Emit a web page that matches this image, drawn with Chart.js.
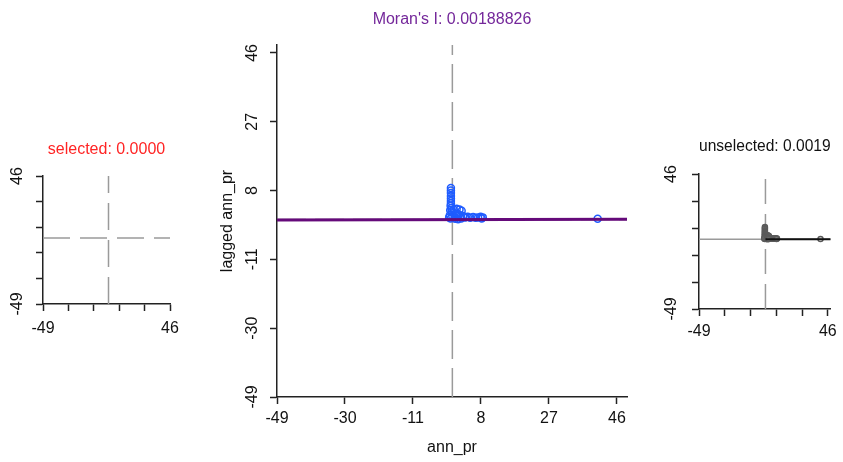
<!DOCTYPE html>
<html><head><meta charset="utf-8">
<script src="https://cdn.jsdelivr.net/npm/chart.js@4.4.0/dist/chart.umd.min.js"></script>
<style>
html,body{margin:0;padding:0;background:#fff;width:843px;height:462px;overflow:hidden}
canvas{position:absolute;top:0}
</style></head><body>
<canvas id="cl" width="200" height="462" style="left:0;width:200px;height:462px"></canvas>
<canvas id="cm" width="460" height="462" style="left:200px;width:460px;height:462px"></canvas>
<canvas id="cr" width="183" height="462" style="left:660px;width:183px;height:462px"></canvas>
<script>
// ---- data ----
const tickValues = [-49, -30, -11, 8, 27, 46];
const sideLabelValues = [-49, 46];
const xTitle = 'ann_pr';
const yTitle = 'lagged ann_pr';
const moransI = 0.00188826;
const mainTitle = "Moran's I: 0.00188826";
const selectedTitle = 'selected: 0.0000';
const unselectedTitle = 'unselected: 0.0019';
const annPr = [-0.4,-0.4,-0.4,-0.4,-0.4,-0.4,-0.4,-0.5,-0.3,-0.6,-0.2,0.4,1.2,2.0,2.6,0.3,1.0,1.8,-0.7,0.0,0.6,1.4,2.2,3.0,3.6,4.3,5.0,5.8,6.5,7.2,7.9,8.5,8.2,-0.5,-0.9,0.8,1.6,2.5,40.6];
const laggedAnnPr = [8.7,8.0,7.3,6.5,5.8,5.1,4.5,3.8,3.2,2.6,2.2,2.8,3.0,2.8,2.4,1.8,1.5,1.4,1.2,0.9,0.6,0.9,0.7,1.0,0.6,0.8,0.5,0.7,0.5,0.6,0.8,0.6,0.3,0.3,0.6,0.2,0.1,0.3,0.2];

// ---- build ----
const FONT_FAMILY = "'Liberation Sans', Arial, sans-serif";
const FS = 16;
Chart.defaults.font.family = FONT_FAMILY;
Chart.defaults.font.size = FS;
Chart.defaults.color = '#111';
const GREY = '#9a9a9a';
const AX = '#222';
const points = annPr.map((x, i) => ({x: x, y: laggedAnnPr[i]}));

const rotY = {
  id: 'rotY',
  afterDraw(chart, args, opts) {
    const s = chart.scales.y, ctx = chart.ctx;
    ctx.save();
    ctx.font = FS + 'px ' + FONT_FAMILY;
    ctx.fillStyle = '#111';
    ctx.textAlign = 'center';
    ctx.textBaseline = 'middle';
    opts.labels.forEach(v => {
      const py = s.getPixelForValue(v);
      ctx.save();
      ctx.translate(s.right - opts.offset, py);
      ctx.rotate(-Math.PI / 2);
      ctx.fillText(String(v), 0, 0);
      ctx.restore();
    });
    ctx.restore();
  }
};

function scales(o) {
  return {
    x: {
      type: 'linear', min: -49, max: o.xmax,
      afterBuildTicks: s => { s.ticks = tickValues.map(v => ({value: v})); },
      afterFit: s => { s.height = o.xh; },
      border: {color: AX, width: 1.5},
      grid: {drawOnChartArea: false, tickLength: 7, tickColor: AX, tickWidth: 1.5},
      ticks: {padding: o.xpad, maxRotation: 0, autoSkip: false,
        callback: v => (o.labelsX.includes(v) ? String(v) : '')},
      title: o.xtitle ? {display: true, text: o.xtitle, padding: {top: 0, bottom: 4.4}} : {display: false}
    },
    y: {
      type: 'linear', min: -49, max: o.ymax,
      afterBuildTicks: s => { s.ticks = tickValues.map(v => ({value: v})); },
      afterFit: s => { s.width = o.yw; },
      border: {color: AX, width: 1.5},
      grid: {drawOnChartArea: false, tickLength: 7, tickColor: AX, tickWidth: 1.5},
      ticks: {display: false},
      title: o.ytitle ? {display: true, text: o.ytitle, padding: {top: 18.4, bottom: 0}} : {display: false}
    }
  };
}

function lineDs(data, color, width, dash) {
  return {type: 'scatter', data: data, showLine: true, borderColor: color, borderWidth: width,
    borderDash: dash || [], pointRadius: 0, fill: false};
}

// main chart
const xMaxMain = 48.8, yMaxMain = 48.2;
new Chart(document.getElementById('cm'), {
  type: 'scatter',
  data: {datasets: [
    lineDs([{x: -49, y: -49 * moransI}, {x: xMaxMain, y: xMaxMain * moransI}], '#650a7a', 3),
    {data: points, pointRadius: 3.5, pointBorderWidth: 1.5, pointBorderColor: '#1f5cff',
     pointBackgroundColor: 'rgba(255,255,255,0)', showLine: false},
    lineDs([{x: 0, y: -49}, {x: 0, y: yMaxMain}], GREY, 1.5, [29, 9]),
    lineDs([{x: -49, y: 0}, {x: xMaxMain, y: 0}], GREY, 1.5, [29, 9])
  ]},
  options: {
    responsive: false, animation: false,
    layout: {padding: {left: 0, right: 33, top: 0, bottom: 0}},
    plugins: {
      legend: {display: false}, tooltip: {enabled: false},
      title: {display: true, text: mainTitle, color: '#74279a', fullSize: false,
        font: {size: FS, weight: 'normal'}, padding: {top: 10, bottom: 15.8}},
      rotY: {labels: tickValues, offset: 24}
    },
    scales: scales({xmax: xMaxMain, ymax: yMaxMain, xh: 65, yw: 77, xpad: 5.4,
      labelsX: tickValues, xtitle: xTitle, ytitle: yTitle})
  },
  plugins: [rotY]
});

// left (selected) chart
new Chart(document.getElementById('cl'), {
  type: 'scatter',
  data: {datasets: [
    lineDs([{x: 0, y: -49}, {x: 0, y: 46}], GREY, 1.5, [27, 10]),
    lineDs([{x: -49, y: 0}, {x: 46, y: 0}], GREY, 1.5, [27, 10])
  ]},
  options: {
    responsive: false, animation: false,
    layout: {padding: {left: 0, right: 30, top: 0, bottom: 118}},
    plugins: {
      legend: {display: false}, tooltip: {enabled: false},
      title: {display: true, text: selectedTitle, color: '#ff2424', fullSize: false,
        font: {size: FS, weight: 'normal'}, padding: {top: 140.4, bottom: 16.4}},
      rotY: {labels: sideLabelValues, offset: 25}
    },
    scales: scales({xmax: 46, ymax: 46, xh: 40, yw: 43, xpad: 8, labelsX: sideLabelValues})
  },
  plugins: [rotY]
});

// right (unselected) chart
const xMaxR = 48.1;
new Chart(document.getElementById('cr'), {
  type: 'scatter',
  data: {datasets: [
    lineDs([{x: 0, y: 0}, {x: xMaxR, y: xMaxR * moransI}], '#111', 2),
    {data: points, pointRadius: 2.6, pointBorderWidth: 1.3, pointBorderColor: '#5a5a5a',
     pointBackgroundColor: 'rgba(140,140,140,0.25)', showLine: false},
    lineDs([{x: 0, y: -49}, {x: 0, y: 46}], GREY, 1.5, [25, 10]),
    lineDs([{x: -49, y: 0}, {x: xMaxR, y: 0}], GREY, 1.5)
  ]},
  options: {
    responsive: false, animation: false,
    layout: {padding: {left: 0, right: 6, top: 0, bottom: 113}},
    plugins: {
      legend: {display: false}, tooltip: {enabled: false},
      title: {display: true, text: unselectedTitle, color: '#111', fullSize: false,
        font: {size: FS, weight: 'normal'}, padding: {top: 137.4, bottom: 17.4}},
      rotY: {labels: sideLabelValues, offset: 27}
    },
    scales: scales({xmax: xMaxR, ymax: 46, xh: 40, yw: 39, xpad: 6, labelsX: sideLabelValues})
  },
  plugins: [rotY]
});
</script>
</body></html>
